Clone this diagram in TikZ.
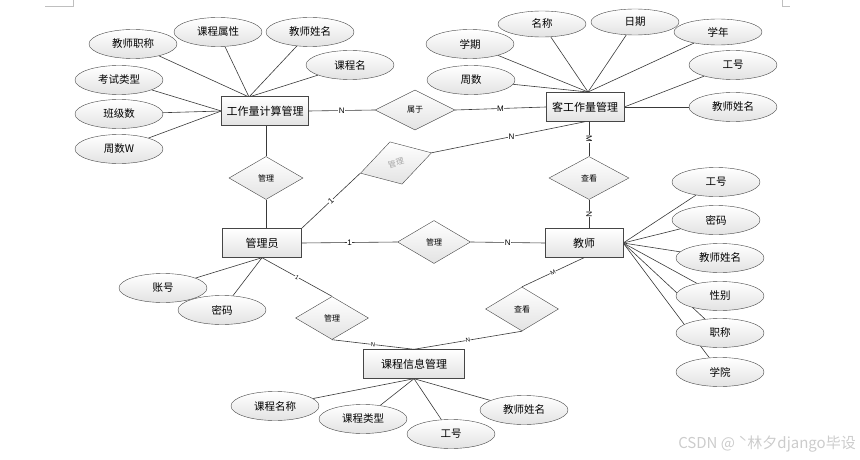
\documentclass[tikz,border=0pt]{standalone}
\usepackage{fontspec}
\setmainfont{Liberation Sans}
\newfontfamily\cjk{Noto Sans CJK SC}
\usetikzlibrary{shapes.geometric,backgrounds}
\tikzset{
  attr/.style={ellipse, draw=gray!55!black, top color=white, bottom color=gray!22,
    minimum width=88, minimum height=29, inner sep=0, font=\cjk\fontsize{10.5}{12}\selectfont},
  ent/.style={rectangle, draw=gray!55!black, top color=white, bottom color=gray!22,
    minimum height=29, inner sep=0, font=\cjk\fontsize{11}{13}\selectfont},
  rel/.style={diamond, draw=gray!55!black, top color=white, bottom color=gray!22,
    inner sep=0, font=\cjk\fontsize{8}{9}\selectfont},
  conn/.style={draw=gray!45!black, line width=0.6pt},
  lbl/.style={fill=white, inner sep=0.6pt, font=\fontsize{8}{9}\selectfont},
  slbl/.style={fill=white, inner sep=0.3pt, font=\fontsize{6}{7}\selectfont},
  cornermark/.style={draw=gray!50, line width=0.6pt}
}
\begin{document}
\begin{tikzpicture}[x=1pt,y=-1pt]
\useasboundingbox (0,0) rectangle (860,460);
% page corner marks
\coordinate (m1a) at (45,6); \coordinate (m1b) at (73,6); \coordinate (m1c) at (73,0);
\draw[cornermark] (m1a) -- (m1b) -- (m1c);
\coordinate (m2a) at (782,0); \coordinate (m2b) at (782,6); \coordinate (m2c) at (790,6);
\draw[cornermark] (m2a) -- (m2b) -- (m2c);

% entities
\node[ent, minimum width=87] (wcalc) at (265,111) {工作量计算管理};
\node[ent, minimum width=78] (kwork) at (585,107) {客工作量管理};
\node[ent, minimum width=79] (admin) at (262,243) {管理员};
\node[ent, minimum width=78] (teacher) at (584,243) {教师};
\node[ent, minimum width=101] (cinfo) at (414,364) {课程信息管理};

% relations
\node[rel, minimum width=80, minimum height=40] (belong) at (415,110) {属于};
\node[rel, minimum width=74, minimum height=44, rotate=16, text=gray!70] (mgB) at (396,163) {管理};
\node[rel, minimum width=74, minimum height=43] (mgA) at (266,178) {管理};
\node[rel, minimum width=73, minimum height=43] (mgC) at (434,242) {管理};
\node[rel, minimum width=80, minimum height=43] (chkA) at (589,178) {查看};
\node[rel, minimum width=73, minimum height=43] (mgD) at (332,318) {管理};
\node[rel, minimum width=73, minimum height=44] (chkB) at (522,309) {查看};

% attributes of wcalc
\node[attr] (a1) at (133,44) {教师职称};
\node[attr] (a2) at (218,32) {课程属性};
\node[attr] (a3) at (310,32) {教师姓名};
\node[attr] (a4) at (350,65) {课程名};
\node[attr] (a5) at (119,80) {考试类型};
\node[attr] (a6) at (119,114) {班级数};
\node[attr] (a7) at (119,149) {周数W};
\coordinate (wtop) at (249,97);

% attributes of kwork
\node[attr] (b1) at (470,44) {学期};
\node[attr, minimum height=26] (b2) at (542,24) {名称};
\node[attr, minimum height=26] (b3) at (635,22) {日期};
\node[attr, minimum height=26] (b4) at (718,32) {学年};
\node[attr] (b5) at (733,65) {工号};
\node[attr] (b6) at (733,107) {教师姓名};
\node[attr] (b7) at (471,80) {周数};
\coordinate (ktop) at (588,92);

% attributes of teacher
\node[attr] (t1) at (716,182) {工号};
\node[attr] (t2) at (716,220) {密码};
\node[attr] (t3) at (720,258) {教师姓名};
\node[attr] (t4) at (720,296) {性别};
\node[attr] (t5) at (720,333) {职称};
\node[attr] (t6) at (720,372) {学院};

% attributes of admin
\node[attr] (d1) at (163,288) {账号};
\node[attr] (d2) at (222,310) {密码};

% attributes of cinfo
\node[attr] (c1) at (275,406) {课程名称};
\node[attr] (c2) at (363,419) {课程类型};
\node[attr] (c3) at (451,434) {工号};
\node[attr] (c4) at (524,410) {教师姓名};

\begin{scope}[on background layer]
\draw[conn] (a1) -- (wtop);
\draw[conn] (a2) -- (wtop);
\draw[conn] (a3) -- (wtop);
\draw[conn] (a4) -- (wtop);
\draw[conn] (a5) -- (wcalc.west);
\draw[conn] (a6) -- (wcalc.west);
\draw[conn] (a7) -- (wcalc.west);
\draw[conn] (b1) -- (ktop);
\draw[conn] (b2) -- (ktop);
\draw[conn] (b3) -- (ktop);
\draw[conn] (b4) -- (ktop);
\draw[conn] (b7) -- (ktop);
\draw[conn] (b5) -- (kwork.east);
\draw[conn] (b6) -- (kwork.east);
\foreach \t in {t1,t2,t3,t4,t5,t6} \draw[conn] (\t) -- (teacher.east);
\draw[conn] (d1) -- (admin.south);
\draw[conn] (d2) -- (admin.south);
\foreach \c in {c1,c2,c3,c4} \draw[conn] (\c) -- (cinfo.south);
\end{scope}

% relationship connectors
\draw[conn] (wcalc.east) -- node[lbl] {N} (belong.west);
\draw[conn] (belong.east) -- node[lbl] {M} (kwork.west);
\draw[conn] (mgA.north) -- (mgA.north |- wcalc.south);
\draw[conn] (mgA.south) -- (mgA.south |- admin.north);
\draw[conn] (admin.north east) -- node[lbl, sloped] {1} (mgB.west);
\draw[conn] (mgB.east) -- node[lbl, pos=0.52] {N} (kwork.south);
\draw[conn] (chkA.north |- kwork.south) -- node[lbl, sloped] {M} (chkA.north);
\draw[conn] (chkA.south) -- node[lbl, sloped] {N} (chkA.south |- teacher.north);
\draw[conn] (admin.east) -- node[lbl] {1} (mgC.west);
\draw[conn] (mgC.east) -- node[lbl] {N} (teacher.west);
\draw[conn] (admin.south) -- node[slbl, sloped] {1} (mgD.north);
\draw[conn] (mgD.south) -- node[slbl, sloped] {N} (cinfo.north);
\draw[conn] (teacher.south) -- node[slbl, sloped] {M} (chkB.north);
\draw[conn] (chkB.south) -- node[slbl, sloped] {N} (cinfo.north);

% watermark
\node[text=gray!40, font=\cjk\fontsize{15}{17}\selectfont, anchor=east, inner sep=0] (wm) at (856,444) {CSDN @ ˋ林夕django毕设};
\end{tikzpicture}
\end{document}
